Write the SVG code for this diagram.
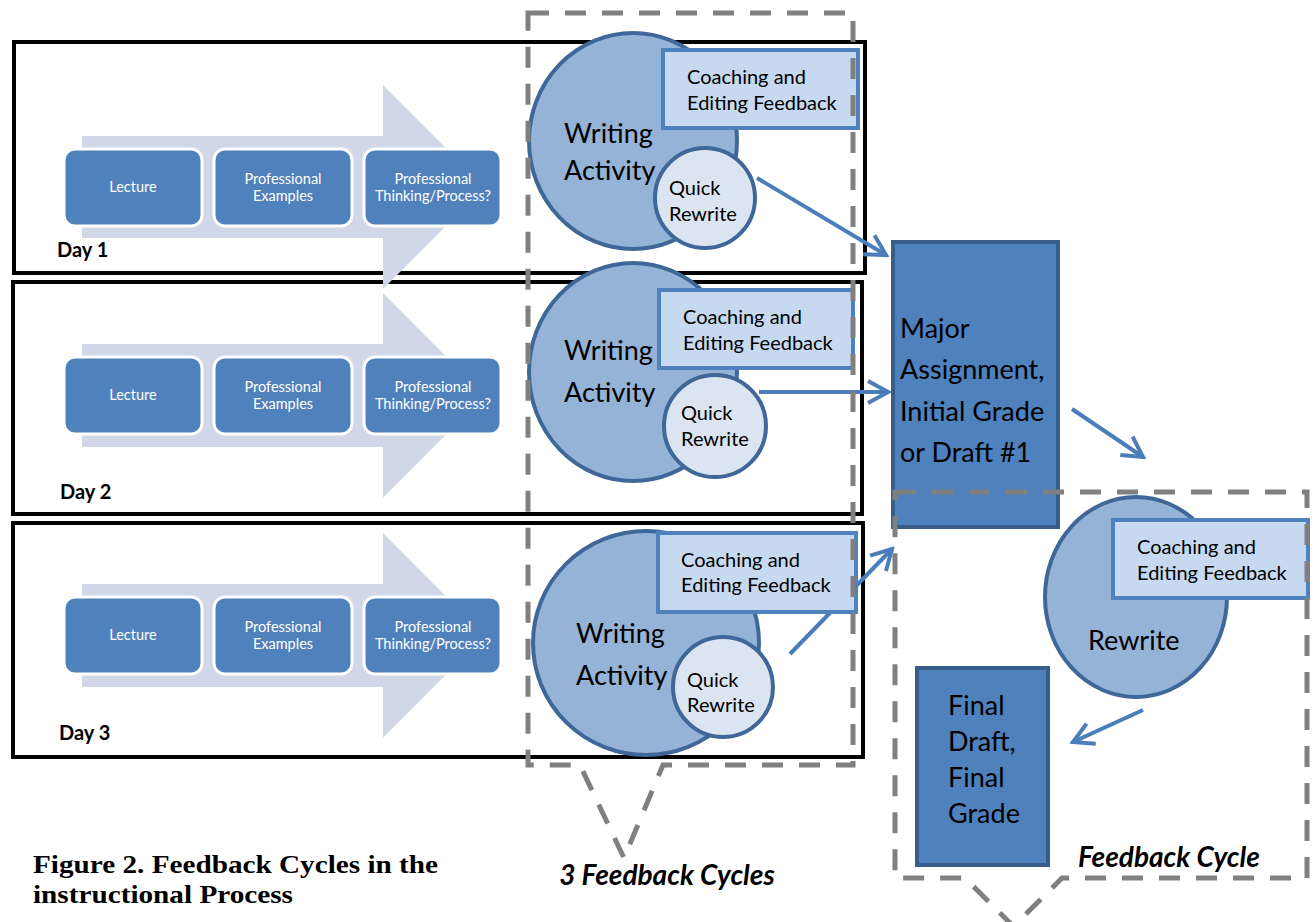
<svg xmlns="http://www.w3.org/2000/svg" width="1316" height="922" viewBox="0 0 1316 922">
<defs>
<style>
.day{fill:none;stroke:#000;stroke-width:4}
.band{fill:#d0d8e8}
.step{fill:#4f81bd;stroke:#fff;stroke-width:3}
.stxt{font-family:Lato,"Liberation Sans",sans-serif;font-size:14.5px;fill:#fff;text-anchor:middle}
.dlab{font-family:Lato,"Liberation Sans",sans-serif;font-size:20px;font-weight:bold;fill:#000}
.wa{fill:#95b3d7;stroke:#3f6798;stroke-width:4}
.qr{fill:#dbe5f1;stroke:#3f6798;stroke-width:4}
.cf{fill:#c6d9f1;stroke:#4f81bd;stroke-width:4}
.big{fill:#4f81bd;stroke:#385d8a;stroke-width:4}
.t28{font-family:Lato,"Liberation Sans",sans-serif;font-size:27px;fill:#000}
.t21{font-family:Lato,"Liberation Sans",sans-serif;font-size:20px;fill:#000}
.dash{fill:none;stroke:#808080;stroke-width:5;stroke-dasharray:21 16}
.cap{font-family:Lato,"Liberation Sans",sans-serif;font-size:28px;font-weight:bold;font-style:italic;fill:#000}
.conn{stroke:#4a7ebb;stroke-width:4;fill:none;marker-end:url(#ah)}
.fig{font-family:"Liberation Serif",serif;font-size:26px;font-weight:bold;fill:#000}
</style>
<marker id="ah" viewBox="-23 -14 26 28" refX="0" refY="0" markerWidth="26" markerHeight="28" markerUnits="userSpaceOnUse" orient="auto">
<path d="M-20,-11 L0,0 L-20,11" fill="none" stroke="#4a7ebb" stroke-width="4"/>
</marker>
</defs>
<rect width="1316" height="922" fill="#fff"/>

<g id="day-frames">
<rect class="day" x="14" y="42" width="851" height="231"/>
<rect class="day" x="13" y="282" width="849" height="232"/>
<rect class="day" x="13" y="523" width="850" height="234"/>
</g>

<g id="day1">
<path class="band" d="M82,136 H383 V85 L485,187 L383,289 V238 H82 Z"/>
<rect class="step" x="64" y="149" width="138" height="77" rx="11"/>
<rect class="step" x="214" y="149" width="138" height="77" rx="11"/>
<rect class="step" x="364" y="149" width="137" height="77" rx="11"/>
<text class="stxt" x="133" y="192">Lecture</text>
<text class="stxt" x="283" y="184">Professional</text>
<text class="stxt" x="283" y="201">Examples</text>
<text class="stxt" x="433" y="184">Professional</text>
<text class="stxt" x="433" y="201">Thinking/Process?</text>
<text class="dlab" x="57" y="257">Day 1</text>
</g>

<g id="day2">
<path class="band" d="M82,344 H383 V293 L485,395.5 L383,498 V447 H82 Z"/>
<rect class="step" x="64" y="357" width="138" height="77" rx="11"/>
<rect class="step" x="214" y="357" width="138" height="77" rx="11"/>
<rect class="step" x="364" y="357" width="137" height="77" rx="11"/>
<text class="stxt" x="133" y="400">Lecture</text>
<text class="stxt" x="283" y="392">Professional</text>
<text class="stxt" x="283" y="409">Examples</text>
<text class="stxt" x="433" y="392">Professional</text>
<text class="stxt" x="433" y="409">Thinking/Process?</text>
<text class="dlab" x="60" y="499">Day 2</text>
</g>

<g id="day3">
<path class="band" d="M82,584 H383 V533 L485,635.5 L383,738 V687 H82 Z"/>
<rect class="step" x="64" y="597" width="138" height="77" rx="11"/>
<rect class="step" x="214" y="597" width="138" height="77" rx="11"/>
<rect class="step" x="364" y="597" width="137" height="77" rx="11"/>
<text class="stxt" x="133" y="640">Lecture</text>
<text class="stxt" x="283" y="632">Professional</text>
<text class="stxt" x="283" y="649">Examples</text>
<text class="stxt" x="433" y="632">Professional</text>
<text class="stxt" x="433" y="649">Thinking/Process?</text>
<text class="dlab" x="59" y="740">Day 3</text>
</g>

<g id="connectors">
<line class="conn" x1="757" y1="178" x2="886" y2="255"/>
<line class="conn" x1="759" y1="392" x2="888" y2="392"/>
<line class="conn" x1="790" y1="654" x2="892" y2="549"/>
<line class="conn" x1="1072" y1="409" x2="1143" y2="457"/>
<line class="conn" x1="1143" y1="710" x2="1073" y2="742"/>
</g>

<g id="writing-activity-1">
<ellipse class="wa" cx="633" cy="141" rx="104" ry="108"/>
<rect class="cf" x="663" y="50" width="195" height="78"/>
<circle class="qr" cx="705" cy="198" r="50"/>
<text class="t28" x="564" y="143">Writing</text>
<text class="t28" x="564" y="180">Activity</text>
<text class="t21" x="687" y="84">Coaching and</text>
<text class="t21" x="687" y="110">Editing Feedback</text>
<text class="t21" x="669" y="195">Quick</text>
<text class="t21" x="669" y="221">Rewrite</text>
</g>

<g id="writing-activity-2">
<ellipse class="wa" cx="633" cy="372" rx="104" ry="109"/>
<rect class="cf" x="659" y="290" width="194" height="78"/>
<circle class="qr" cx="715" cy="426" r="51"/>
<text class="t28" x="564" y="360">Writing</text>
<text class="t28" x="564" y="402">Activity</text>
<text class="t21" x="683" y="324">Coaching and</text>
<text class="t21" x="683" y="350">Editing Feedback</text>
<text class="t21" x="681" y="420">Quick</text>
<text class="t21" x="681" y="446">Rewrite</text>
</g>

<g id="writing-activity-3">
<ellipse class="wa" cx="646" cy="643" rx="113" ry="112"/>
<rect class="cf" x="658" y="533" width="198" height="79"/>
<circle class="qr" cx="723" cy="687" r="50"/>
<text class="t28" x="576" y="643">Writing</text>
<text class="t28" x="576" y="685">Activity</text>
<text class="t21" x="681" y="567">Coaching and</text>
<text class="t21" x="681" y="592">Editing Feedback</text>
<text class="t21" x="687" y="687">Quick</text>
<text class="t21" x="687" y="712">Rewrite</text>
</g>

<g id="major-assignment">
<rect class="big" x="893" y="242" width="165" height="285"/>
<text class="t28" x="900" y="338">Major</text>
<text class="t28" x="900" y="379">Assignment,</text>
<text class="t28" x="900" y="421">Initial Grade</text>
<text class="t28" x="900" y="462">or Draft #1</text>
</g>

<g id="rewrite">
<ellipse class="wa" cx="1136" cy="597" rx="91" ry="100"/>
<rect class="cf" x="1113" y="520" width="195" height="78"/>
<text class="t21" x="1137" y="554">Coaching and</text>
<text class="t21" x="1137" y="580">Editing Feedback</text>
<text class="t28" x="1088" y="650">Rewrite</text>
</g>

<g id="final-draft">
<rect class="big" x="917" y="668" width="131" height="197"/>
<text class="t28" x="948" y="715">Final</text>
<text class="t28" x="948" y="751">Draft,</text>
<text class="t28" x="948" y="787">Final</text>
<text class="t28" x="948" y="823">Grade</text>
</g>

<g id="three-feedback-cycles">
<path class="dash" d="M528,13 H853 V765 H663 L624,858 L580,765 H528 Z"/>
<text class="cap" x="667" y="885" text-anchor="middle">3 Feedback Cycles</text>
</g>

<g id="feedback-cycle">
<path class="dash" d="M895,492 H1307 V878 H1062 L1013.5,926.5 L965,878 H895 Z"/>
<text class="cap" x="1078" y="867">Feedback Cycle</text>
</g>

<g id="caption">
<text class="fig" x="33" y="873" textLength="405" lengthAdjust="spacingAndGlyphs">Figure 2. Feedback Cycles in the</text>
<text class="fig" x="33" y="903" textLength="260" lengthAdjust="spacingAndGlyphs">instructional Process</text>
</g>
</svg>
